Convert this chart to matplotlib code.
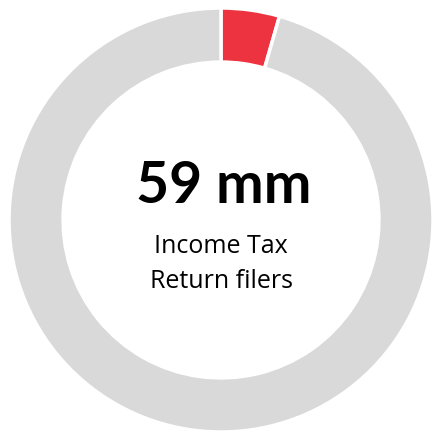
import matplotlib
matplotlib.use("Agg")
import matplotlib.pyplot as plt

labels = ["Income Tax Return filers", "Others"]
values = [4.45, 95.55]
colors = ["#EE3340", "#D9D9D9"]
headline = "59 mm"
subtitle_lines = ["Income Tax", "Return filers"]

fig = plt.figure(figsize=(4.35, 4.33), dpi=100)
ax = fig.add_axes([0, 0, 1, 1])
ax.pie(values, colors=colors, startangle=90, counterclock=False,
       radius=1.0,
       wedgeprops=dict(width=0.255, edgecolor="white", linewidth=2.5))
ax.set_xlim(-1.0425, 1.0094)
ax.set_ylim(-1.0047, 1.0377)
ax.axis("off")
ax.text(0.012, 0.080, headline, ha="center", va="baseline", fontsize=41,
        fontweight="bold", family="Lato")
ax.text(0, -0.156, subtitle_lines[0], ha="center", va="baseline",
        fontsize=18, family="Open Sans")
ax.text(0, -0.321, subtitle_lines[1], ha="center", va="baseline",
        fontsize=18, family="Open Sans")
fig.savefig("out.png", dpi=100)
